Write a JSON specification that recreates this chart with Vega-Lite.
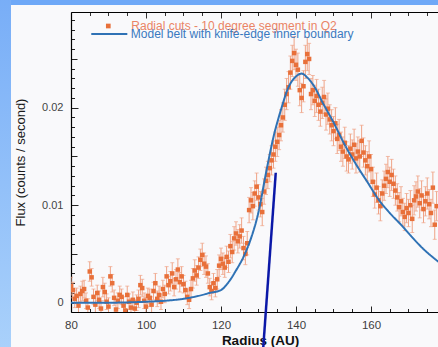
{
  "$schema": "https://vega.github.io/schema/vega-lite/v6.json",
  "width": 367,
  "height": 300,
  "autosize": {"type": "none"},
  "padding": {"left": 71, "top": 12, "right": 0, "bottom": 35},
  "background": "#f9f9fb",
  "config": {"view": {"stroke": null}, "font": "Liberation Sans", "tick": {"bandSize": 4, "thickness": 1}},
  "datasets": {
    "pts": [
      {"r":80.0,"f":0.0017,"e":0.0009},{"r":80.5,"f":0.0013,"e":0.0008},{"r":81.0,"f":0.0004,"e":0.0009},{"r":81.5,"f":0.0007,"e":0.0008},
      {"r":82.0,"f":-0.0003,"e":0.0009},{"r":82.5,"f":0.0009,"e":0.0008},{"r":83.0,"f":0.0012,"e":0.0010},{"r":83.5,"f":0.0014,"e":0.0009},
      {"r":84.0,"f":0.0002,"e":0.0008},{"r":84.5,"f":-0.0005,"e":0.0009},{"r":85.0,"f":0.0032,"e":0.0010},{"r":85.5,"f":0.0026,"e":0.0009},
      {"r":86.0,"f":0.0006,"e":0.0008},{"r":86.5,"f":-0.0002,"e":0.0009},{"r":87.0,"f":0.0010,"e":0.0008},{"r":87.5,"f":0.0003,"e":0.0009},
      {"r":88.0,"f":-0.0006,"e":0.0008},{"r":88.5,"f":0.0016,"e":0.0010},{"r":89.0,"f":0.0011,"e":0.0009},{"r":89.5,"f":0.0001,"e":0.0008},
      {"r":90.0,"f":-0.0004,"e":0.0009},{"r":90.5,"f":0.0027,"e":0.0010},{"r":91.0,"f":0.0020,"e":0.0009},{"r":91.5,"f":0.0005,"e":0.0008},
      {"r":92.0,"f":-0.0007,"e":0.0009},{"r":92.5,"f":0.0002,"e":0.0008},{"r":93.0,"f":0.0008,"e":0.0009},{"r":93.5,"f":0.0006,"e":0.0008},
      {"r":94.0,"f":-0.0003,"e":0.0009},{"r":94.5,"f":-0.0008,"e":0.0008},{"r":95.0,"f":0.0008,"e":0.0009},{"r":95.5,"f":0.0001,"e":0.0008},
      {"r":96.0,"f":-0.0005,"e":0.0009},{"r":96.5,"f":0.0003,"e":0.0008},{"r":97.0,"f":-0.0006,"e":0.0009},{"r":97.5,"f":0.0000,"e":0.0008},
      {"r":98.0,"f":0.0004,"e":0.0009},{"r":98.5,"f":0.0018,"e":0.0010},{"r":99.0,"f":0.0015,"e":0.0009},{"r":99.5,"f":0.0002,"e":0.0008},
      {"r":100.0,"f":-0.0004,"e":0.0009},{"r":100.5,"f":0.0007,"e":0.0008},{"r":101.0,"f":0.0005,"e":0.0009},{"r":101.5,"f":-0.0002,"e":0.0008},
      {"r":102.0,"f":0.0012,"e":0.0009},{"r":102.5,"f":0.0020,"e":0.0010},{"r":103.0,"f":0.0004,"e":0.0008},{"r":103.5,"f":0.0008,"e":0.0009},
      {"r":104.0,"f":0.0001,"e":0.0008},{"r":104.5,"f":0.0014,"e":0.0009},{"r":105.0,"f":0.0009,"e":0.0009},{"r":105.5,"f":0.0027,"e":0.0010},
      {"r":106.0,"f":0.0018,"e":0.0009},{"r":106.5,"f":0.0022,"e":0.0010},{"r":107.0,"f":0.0030,"e":0.0011},{"r":107.5,"f":0.0016,"e":0.0009},
      {"r":108.0,"f":0.0024,"e":0.0010},{"r":108.5,"f":0.0034,"e":0.0011},{"r":109.0,"f":0.0021,"e":0.0010},{"r":109.5,"f":0.0027,"e":0.0010},
      {"r":110.0,"f":0.0019,"e":0.0009},{"r":110.5,"f":0.0013,"e":0.0009},{"r":111.0,"f":0.0006,"e":0.0008},{"r":111.5,"f":0.0003,"e":0.0009},
      {"r":112.0,"f":0.0014,"e":0.0009},{"r":112.5,"f":0.0025,"e":0.0010},{"r":113.0,"f":0.0033,"e":0.0011},{"r":113.5,"f":0.0028,"e":0.0010},
      {"r":114.0,"f":0.0036,"e":0.0011},{"r":114.5,"f":0.0044,"e":0.0011},{"r":115.0,"f":0.0049,"e":0.0012},{"r":115.5,"f":0.0040,"e":0.0011},
      {"r":116.0,"f":0.0037,"e":0.0011},{"r":116.5,"f":0.0030,"e":0.0010},{"r":117.0,"f":0.0016,"e":0.0009},{"r":117.5,"f":0.0012,"e":0.0009},
      {"r":118.0,"f":0.0020,"e":0.0010},{"r":118.5,"f":0.0015,"e":0.0009},{"r":119.0,"f":0.0024,"e":0.0010},{"r":119.5,"f":0.0038,"e":0.0011},
      {"r":120.0,"f":0.0045,"e":0.0011},{"r":120.5,"f":0.0040,"e":0.0011},{"r":121.0,"f":0.0036,"e":0.0010},{"r":121.5,"f":0.0047,"e":0.0011},
      {"r":122.0,"f":0.0042,"e":0.0011},{"r":122.5,"f":0.0058,"e":0.0012},{"r":123.0,"f":0.0052,"e":0.0011},{"r":123.5,"f":0.0066,"e":0.0012},
      {"r":124.0,"f":0.0071,"e":0.0012},{"r":124.5,"f":0.0063,"e":0.0012},{"r":125.0,"f":0.0068,"e":0.0012},{"r":125.5,"f":0.0074,"e":0.0013},
      {"r":126.0,"f":0.0056,"e":0.0012},{"r":126.5,"f":0.0050,"e":0.0011},{"r":127.0,"f":0.0061,"e":0.0012},{"r":127.5,"f":0.0095,"e":0.0013},
      {"r":128.0,"f":0.0105,"e":0.0013},{"r":128.5,"f":0.0099,"e":0.0014},{"r":129.0,"f":0.0112,"e":0.0013},{"r":129.5,"f":0.0119,"e":0.0014},
      {"r":130.0,"f":0.0108,"e":0.0013},{"r":130.5,"f":0.0101,"e":0.0013},{"r":131.0,"f":0.0093,"e":0.0014},{"r":131.5,"f":0.0114,"e":0.0013},
      {"r":132.0,"f":0.0125,"e":0.0014},{"r":132.5,"f":0.0131,"e":0.0014},{"r":133.0,"f":0.0138,"e":0.0014},{"r":133.5,"f":0.0146,"e":0.0015},
      {"r":134.0,"f":0.0152,"e":0.0014},{"r":134.5,"f":0.0160,"e":0.0015},{"r":135.0,"f":0.0165,"e":0.0015},{"r":135.5,"f":0.0172,"e":0.0015},
      {"r":136.0,"f":0.0182,"e":0.0016},{"r":136.5,"f":0.0190,"e":0.0015},{"r":137.0,"f":0.0203,"e":0.0016},{"r":137.5,"f":0.0214,"e":0.0016},
      {"r":138.0,"f":0.0221,"e":0.0016},{"r":138.5,"f":0.0236,"e":0.0017},{"r":139.0,"f":0.0248,"e":0.0016},{"r":139.5,"f":0.0256,"e":0.0017},
      {"r":140.0,"f":0.0244,"e":0.0016},{"r":140.5,"f":0.0239,"e":0.0017},{"r":141.0,"f":0.0218,"e":0.0016},{"r":141.5,"f":0.0210,"e":0.0015},
      {"r":142.0,"f":0.0222,"e":0.0016},{"r":142.5,"f":0.0247,"e":0.0017},{"r":143.0,"f":0.0255,"e":0.0017},{"r":143.5,"f":0.0250,"e":0.0016},
      {"r":144.0,"f":0.0214,"e":0.0016},{"r":144.5,"f":0.0218,"e":0.0015},{"r":145.0,"f":0.0207,"e":0.0016},{"r":145.5,"f":0.0212,"e":0.0017},
      {"r":146.0,"f":0.0203,"e":0.0016},{"r":146.5,"f":0.0196,"e":0.0015},{"r":147.0,"f":0.0205,"e":0.0016},{"r":147.5,"f":0.0211,"e":0.0017},
      {"r":148.0,"f":0.0193,"e":0.0016},{"r":148.5,"f":0.0199,"e":0.0016},{"r":149.0,"f":0.0188,"e":0.0015},{"r":149.5,"f":0.0182,"e":0.0016},
      {"r":150.0,"f":0.0176,"e":0.0015},{"r":150.5,"f":0.0184,"e":0.0016},{"r":151.0,"f":0.0168,"e":0.0015},{"r":151.5,"f":0.0172,"e":0.0016},
      {"r":152.0,"f":0.0160,"e":0.0015},{"r":152.5,"f":0.0155,"e":0.0015},{"r":153.0,"f":0.0164,"e":0.0016},{"r":153.5,"f":0.0150,"e":0.0015},
      {"r":154.0,"f":0.0147,"e":0.0014},{"r":154.5,"f":0.0158,"e":0.0015},{"r":155.0,"f":0.0152,"e":0.0015},{"r":155.5,"f":0.0162,"e":0.0016},
      {"r":156.0,"f":0.0148,"e":0.0015},{"r":156.5,"f":0.0155,"e":0.0015},{"r":157.0,"f":0.0150,"e":0.0016},{"r":157.5,"f":0.0166,"e":0.0016},
      {"r":158.0,"f":0.0154,"e":0.0015},{"r":158.5,"f":0.0146,"e":0.0015},{"r":159.0,"f":0.0140,"e":0.0015},{"r":159.5,"f":0.0150,"e":0.0016},
      {"r":160.0,"f":0.0137,"e":0.0015},{"r":160.5,"f":0.0124,"e":0.0015},{"r":161.0,"f":0.0111,"e":0.0014},{"r":161.5,"f":0.0118,"e":0.0015},
      {"r":162.0,"f":0.0105,"e":0.0014},{"r":162.5,"f":0.0099,"e":0.0015},{"r":163.0,"f":0.0112,"e":0.0014},{"r":163.5,"f":0.0120,"e":0.0015},
      {"r":164.0,"f":0.0127,"e":0.0015},{"r":164.5,"f":0.0134,"e":0.0016},{"r":165.0,"f":0.0124,"e":0.0015},{"r":165.5,"f":0.0131,"e":0.0016},
      {"r":166.0,"f":0.0122,"e":0.0015},{"r":166.5,"f":0.0115,"e":0.0015},{"r":167.0,"f":0.0108,"e":0.0014},{"r":167.5,"f":0.0098,"e":0.0015},
      {"r":168.0,"f":0.0104,"e":0.0015},{"r":168.5,"f":0.0093,"e":0.0014},{"r":169.0,"f":0.0088,"e":0.0014},{"r":169.5,"f":0.0097,"e":0.0015},
      {"r":170.0,"f":0.0092,"e":0.0014},{"r":170.5,"f":0.0100,"e":0.0015},{"r":171.0,"f":0.0086,"e":0.0014},{"r":171.5,"f":0.0105,"e":0.0015},
      {"r":172.0,"f":0.0109,"e":0.0015},{"r":172.5,"f":0.0114,"e":0.0016},{"r":173.0,"f":0.0102,"e":0.0015},{"r":173.5,"f":0.0110,"e":0.0015},
      {"r":174.0,"f":0.0096,"e":0.0014},{"r":174.5,"f":0.0104,"e":0.0015},{"r":175.0,"f":0.0112,"e":0.0016},{"r":175.5,"f":0.0101,"e":0.0015},
      {"r":176.0,"f":0.0092,"e":0.0014},{"r":176.5,"f":0.0118,"e":0.0016},{"r":177.0,"f":0.0080,"e":0.0015},{"r":177.5,"f":0.0099,"e":0.0015}
    ],
    "model": [
      {"r":80,"m":0.0000},{"r":90,"m":0.0000},{"r":100,"m":0.0001},{"r":105,"m":0.0002},{"r":110,"m":0.0004},
      {"r":114,"m":0.0007},{"r":117,"m":0.0010},{"r":120,"m":0.0013},{"r":122,"m":0.0021},{"r":124,"m":0.0033},
      {"r":126,"m":0.0047},{"r":128,"m":0.0066},{"r":130,"m":0.0093},{"r":132,"m":0.0133},{"r":134,"m":0.0170},
      {"r":136,"m":0.0198},{"r":138,"m":0.0221},{"r":140,"m":0.0232},{"r":141.5,"m":0.0235},{"r":143,"m":0.0231},
      {"r":145,"m":0.0221},{"r":147,"m":0.0206},{"r":150,"m":0.0185},{"r":153,"m":0.0162},{"r":156,"m":0.0142},
      {"r":159,"m":0.0124},{"r":162,"m":0.0106},{"r":165,"m":0.0092},{"r":168,"m":0.0080},{"r":171,"m":0.0067},
      {"r":174,"m":0.0055},{"r":177,"m":0.0045},{"r":178,"m":0.0042}
    ]
  },
  "resolve": {"axis": {"x": "independent", "y": "independent"}},
  "layer": [
    {
      "data": {"values": [{}]},
      "mark": {"type": "rect", "clip": false, "color": "#6ea8f7"},
      "encoding": {
        "x": {"datum": 50, "type": "quantitative", "scale": {"domain": [80, 177.87], "nice": false, "zero": false}, "axis": null},
        "x2": {"datum": 200},
        "y": {"datum": 0.04, "type": "quantitative", "scale": {"domain": [-0.000954, 0.029815], "nice": false, "zero": false}, "axis": null},
        "y2": {"datum": 0.03053}
      }
    },
    {
      "data": {"values": [{}]},
      "mark": {"type": "rect", "clip": false, "color": {"gradient": "linear", "x1": 0, "y1": 0, "x2": 0, "y2": 1, "stops": [{"offset": 0, "color": "#6ca5f6"}, {"offset": 1, "color": "#abd2fb"}]}},
      "encoding": {
        "x": {"datum": 50, "type": "quantitative", "scale": {"domain": [80, 177.87], "nice": false, "zero": false}, "axis": null},
        "x2": {"datum": 64.0},
        "y": {"datum": 0.04, "type": "quantitative", "scale": {"domain": [-0.000954, 0.029815], "nice": false, "zero": false}, "axis": null},
        "y2": {"datum": -0.006}
      }
    },
    {
      "data": {"name": "pts"},
      "mark": {"type": "errorbar", "clip": true, "ticks": {"color": "#efa386", "size": 4}, "rule": {"color": "#efa386"}},
      "encoding": {
        "x": {"field": "r", "type": "quantitative", "scale": {"domain": [80, 177.87], "nice": false, "zero": false}, "axis": null},
        "y": {"field": "f", "type": "quantitative", "scale": {"domain": [-0.000954, 0.029815], "nice": false, "zero": false}, "axis": null},
        "yError": {"field": "e"}
      }
    },
    {
      "data": {"name": "pts"},
      "mark": {"type": "point", "shape": "square", "filled": true, "size": 20, "opacity": 1, "clip": true},
      "encoding": {
        "x": {"field": "r", "type": "quantitative", "scale": {"domain": [80, 177.87], "nice": false, "zero": false},
          "axis": {"orient": "bottom", "values": [80,85,90,95,100,105,110,115,120,125,130,135,140,145,150,155,160,165,170,175],
            "tickSize": {"condition": {"test": "datum.value % 20 === 0", "value": -6}, "value": -3.5},
            "labelExpr": "datum.value % 20 === 0 ? datum.label : ''", "labelFlush": false, "labelOverlap": false,
            "labelPadding": 13, "labelFontSize": 11.5, "labelColor": "#3d3d3d", "domainColor": "#000", "domainWidth": 1.2,
            "tickColor": "#222", "grid": false, "title": "Radius (AU)", "titleFontSize": 13.5, "titleFontWeight": "bold",
            "titleColor": "#111", "titlePadding": 0, "titleX": 189}},
        "y": {"field": "f", "type": "quantitative", "scale": {"domain": [-0.000954, 0.029815], "nice": false, "zero": false},
          "axis": {"orient": "left", "values": [0,0.001,0.002,0.003,0.004,0.005,0.006,0.007,0.008,0.009,0.01,0.011,0.012,0.013,0.014,0.015,0.016,0.017,0.018,0.019,0.02,0.021,0.022,0.023,0.024,0.025,0.026,0.027,0.028,0.029],
            "tickSize": {"condition": [{"test": "round(datum.value*1000) % 10 === 0", "value": -7}, {"test": "round(datum.value*1000) % 5 === 0", "value": -6}], "value": -3.5},
            "labelExpr": "round(datum.value*1000) % 10 === 0 ? (datum.value === 0 ? '0' : format(datum.value, '.2f')) : ''",
            "labelOverlap": false, "labelPadding": 15, "labelFontSize": 11, "labelColor": "#444", "domainColor": "#000", "domainWidth": 1.2,
            "tickColor": "#222", "grid": false, "title": "Flux (counts / second)", "titleFontSize": 13, "titleFontWeight": "normal",
            "titleColor": "#1a1a1a", "titlePadding": 14}},
        "color": {"datum": "Radial cuts - 10 degree segment in Q2", "type": "nominal",
          "scale": {"domain": ["Radial cuts - 10 degree segment in Q2"], "range": ["#e8703a"]},
          "legend": {"title": null, "orient": "none", "legendX": 31.3, "legendY": 8, "padding": 0, "labelFont": "Liberation Sans", "labelFontSize": 12, "labelOffset": 17, "labelLimit": 400,
            "labelColor": "#ea8466", "symbolType": "square", "symbolSize": 22, "symbolStrokeWidth": 0}}
      }
    },
    {
      "data": {"name": "model"},
      "mark": {"type": "line", "color": "#2f72b5", "strokeWidth": 2, "interpolate": "monotone", "clip": true},
      "encoding": {
        "x": {"field": "r", "type": "quantitative", "scale": {"domain": [80, 177.87], "nice": false, "zero": false},
          "axis": {"orient": "top", "values": [80,85,90,95,100,105,110,115,120,125,130,135,140,145,150,155,160,165,170,175],
            "labels": false, "title": null, "domainColor": "#000", "domainWidth": 1.2, "tickColor": "#333", "grid": false,
            "tickSize": {"condition": {"test": "datum.value % 20 === 0", "value": -6}, "value": -3.5}}},
        "y": {"field": "m", "type": "quantitative", "scale": {"domain": [-0.000954, 0.029815], "nice": false, "zero": false}, "axis": null},
        "strokeDash": {"datum": "Model belt with knife-edge inner boundary", "type": "nominal",
          "scale": {"domain": ["Model belt with knife-edge inner boundary"], "range": [[1, 0]]},
          "legend": {"title": null, "orient": "none", "legendX": 18.8, "legendY": 2.5, "padding": 0, "labelFont": "Liberation Sans", "labelFontSize": 12, "labelOffset": 2, "labelLimit": 400,
            "labelColor": "#3a79c0", "symbolType": "stroke", "symbolSize": 1300, "symbolStrokeColor": "#2f72b5", "symbolStrokeWidth": 2}}
      }
    },
    {
      "data": {"values": [{}]},
      "mark": {"type": "rule", "clip": false, "color": "#0b18a8", "strokeWidth": 2.5},
      "encoding": {
        "x": {"datum": 131.25, "type": "quantitative", "scale": {"domain": [80, 177.87], "nice": false, "zero": false}, "axis": null},
        "x2": {"datum": 134.6},
        "y": {"datum": -0.0047, "type": "quantitative", "scale": {"domain": [-0.000954, 0.029815], "nice": false, "zero": false}, "axis": null},
        "y2": {"datum": 0.01333}
      }
    }
  ]
}
